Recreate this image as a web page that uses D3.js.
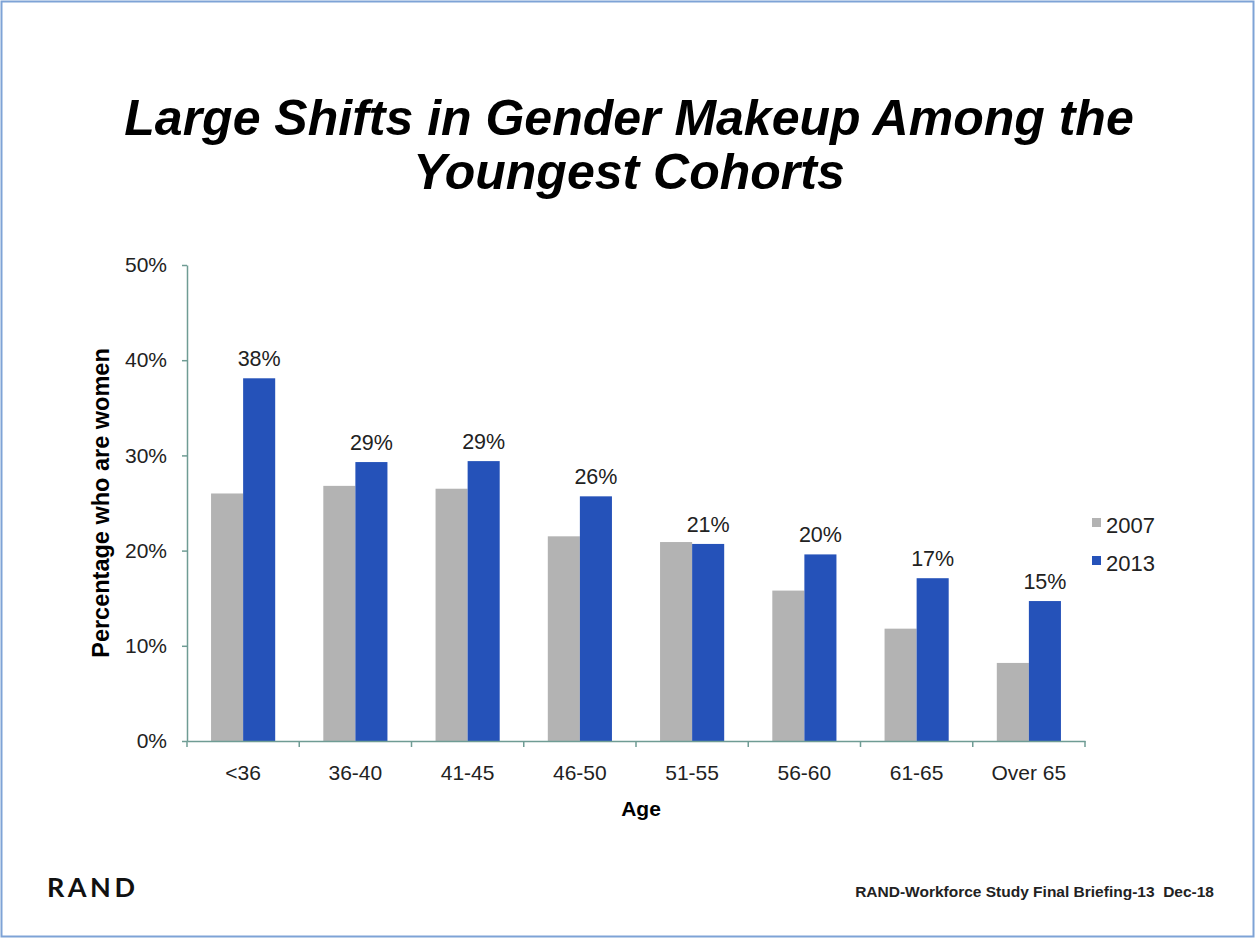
<!DOCTYPE html>
<html>
<head>
<meta charset="utf-8">
<script src="https://cdn.jsdelivr.net/npm/d3@7"></script>
<style>
  body { margin: 0; background: #fff; }
  svg { display: block; font-family: "Liberation Sans", Arial, sans-serif; }
</style>
</head>
<body>
<svg id="chart" width="1255" height="938"></svg>
<script>
// data
var ages = ["<36", "36-40", "41-45", "46-50", "51-55", "56-60", "61-65", "Over 65"];
var years = ["2007", "2013"];
var share2007 = [0.260, 0.268, 0.265, 0.215, 0.209, 0.158, 0.118, 0.082];
var share2013 = [0.381, 0.293, 0.294, 0.257, 0.207, 0.196, 0.171, 0.147];
var labels2013 = ["38%", "29%", "29%", "26%", "21%", "20%", "17%", "15%"];
var yTicks = [0, 0.1, 0.2, 0.3, 0.4, 0.5];
var colors = {"2007": "#b3b3b3", "2013": "#2552b9"};

var width = 1255;
var height = 938;
var plot = {left: 187, right: 1085, top: 265, bottom: 741};
var axisColor = "#6f9c94";

var svg = d3.select("#chart");

// slide border
svg.append("rect")
  .attr("x", 1.5).attr("y", 1.5)
  .attr("width", width - 3).attr("height", height - 3)
  .attr("fill", "none")
  .attr("stroke", "#7ea3d6")
  .attr("stroke-width", 2);

// title
var title = svg.append("text")
  .attr("text-anchor", "middle")
  .attr("font-size", 50)
  .attr("font-weight", "bold")
  .attr("font-style", "italic")
  .attr("fill", "#000");
title.append("tspan").attr("x", 629).attr("y", 135).text("Large Shifts in Gender Makeup Among the");
title.append("tspan").attr("x", 629).attr("y", 189).text("Youngest Cohorts");

//-----------------------------------------
// scales
var x = d3.scaleBand()
  .domain(ages)
  .range([plot.left, plot.right])
  .padding(0);
var xSub = d3.scaleBand()
  .domain(years)
  .range([0, x.bandwidth()])
  .paddingInner(0)
  .paddingOuter(0.75);
var y = d3.scaleLinear()
  .domain([0, 0.5])
  .range([plot.bottom, plot.top]);

var rows = ages.map(function(a, i) {
  return {age: a, "2007": share2007[i], "2013": share2013[i], label: labels2013[i]};
});

//-----------------------------------------
// bars
var groups = svg.selectAll(".group")
  .data(rows)
  .enter()
  .append("g")
  .attr("class", "group")
  .attr("transform", function(d) { return "translate(" + x(d.age) + ",0)"; });

groups.selectAll("rect")
  .data(function(d) { return years.map(function(yr) { return {year: yr, value: d[yr]}; }); })
  .enter()
  .append("rect")
  .attr("x", function(d) { return xSub(d.year); })
  .attr("y", function(d) { return y(d.value); })
  .attr("width", xSub.bandwidth())
  .attr("height", function(d) { return y(0) - y(d.value); })
  .attr("fill", function(d) { return colors[d.year]; });

// value labels over the 2013 bars
groups.append("text")
  .attr("x", xSub("2013") + xSub.bandwidth() / 2)
  .attr("y", function(d) { return y(d["2013"]) - 12; })
  .attr("text-anchor", "middle")
  .attr("font-size", 21.5)
  .attr("fill", "#222")
  .text(function(d) { return d.label; });

//-----------------------------------------
// axes
var yAxis = d3.axisLeft(y)
  .tickValues(yTicks)
  .tickFormat(d3.format(".0%"))
  .tickSize(5)
  .tickSizeOuter(0)
  .tickPadding(15);
var gy = svg.append("g")
  .attr("transform", "translate(" + plot.left + ",0)")
  .call(yAxis);
gy.select(".domain").attr("stroke", axisColor).attr("stroke-width", 1.5);
gy.selectAll(".tick line").attr("stroke", axisColor).attr("stroke-width", 1.5);
gy.selectAll(".tick text")
  .attr("font-size", 21)
  .attr("font-family", "Liberation Sans, Arial, sans-serif")
  .attr("fill", "#222");

var xAxis = d3.axisBottom(x).tickSize(0).tickPadding(24);
var gx = svg.append("g")
  .attr("transform", "translate(0," + plot.bottom + ")")
  .call(xAxis);
gx.select(".domain").attr("stroke", axisColor).attr("stroke-width", 1.5);
gx.selectAll(".tick line").remove();
gx.selectAll(".tick text")
  .attr("font-size", 21)
  .attr("font-family", "Liberation Sans, Arial, sans-serif")
  .attr("fill", "#222");

// category boundary ticks
var bounds = ages.map(function(a) { return x(a); }).concat([plot.right]);
gx.selectAll(".bound")
  .data(bounds)
  .enter()
  .append("line")
  .attr("class", "bound")
  .attr("x1", function(d) { return d; })
  .attr("x2", function(d) { return d; })
  .attr("y1", 0)
  .attr("y2", 6)
  .attr("stroke", axisColor)
  .attr("stroke-width", 1.5);

// axis titles
svg.append("text")
  .attr("transform", "translate(109," + ((plot.top + plot.bottom) / 2) + ") rotate(-90)")
  .attr("text-anchor", "middle")
  .attr("font-size", 23.5)
  .attr("font-weight", "bold")
  .attr("fill", "#000")
  .text("Percentage who are women");

svg.append("text")
  .attr("x", 641)
  .attr("y", 816)
  .attr("text-anchor", "middle")
  .attr("font-size", 21)
  .attr("font-weight", "bold")
  .attr("fill", "#000")
  .text("Age");

//-----------------------------------------
// legend
var legend = svg.selectAll(".legend")
  .data(years)
  .enter()
  .append("g")
  .attr("class", "legend")
  .attr("transform", function(d, i) { return "translate(1092," + (518 + i * 38) + ")"; });
legend.append("rect")
  .attr("width", 9).attr("height", 9)
  .attr("fill", function(d) { return colors[d]; });
legend.append("text")
  .attr("x", 14)
  .attr("y", 15)
  .attr("font-size", 22)
  .attr("fill", "#222")
  .text(function(d) { return d; });

//-----------------------------------------
// footer
svg.append("text")
  .attr("x", 47)
  .attr("y", 897)
  .attr("font-family", "Lato, 'Open Sans', sans-serif")
  .attr("font-size", 27)
  .attr("font-weight", "bold")
  .attr("letter-spacing", 3.5)
  .attr("fill", "#111")
  .text("RAND");

svg.append("text")
  .attr("x", 1214)
  .attr("y", 897)
  .attr("text-anchor", "end")
  .attr("font-size", 15.5)
  .attr("font-weight", "bold")
  .attr("fill", "#222")
  .attr("xml:space", "preserve")
  .text("RAND-Workforce Study Final Briefing-13  Dec-18");
</script>
</body>
</html>
